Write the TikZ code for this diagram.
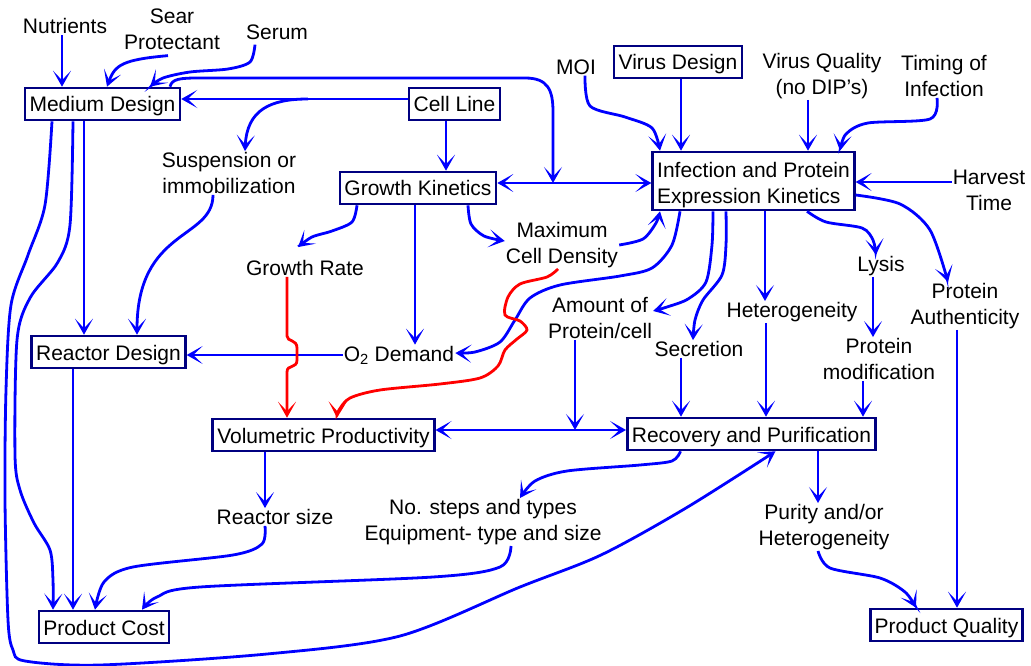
\documentclass[tikz,border=0pt]{standalone}
\usepackage{fontspec}
\setmainfont{Liberation Sans}
\usetikzlibrary{arrows.meta}
\definecolor{linkblue}{RGB}{0,0,255}
\definecolor{boxnavy}{RGB}{0,0,128}
\definecolor{linkred}{RGB}{255,0,0}
\begin{document}
\begin{tikzpicture}[x=1pt,y=-1pt,
  font=\fontsize{21}{26}\selectfont,
  boxbase/.style={draw=boxnavy, line width=2.6pt, fill=white, inner xsep=4.5pt, inner ysep=6pt},
  box/.style={boxbase, text height=18pt, text depth=2pt},
  lbl/.style={align=center, inner sep=1pt},
  vtip/.tip={Stealth[length=16pt,width=18pt,inset=9.5pt]},
  link/.style={draw=linkblue, line width=2.8pt, -vtip},
  both/.style={link, vtip-vtip},
  hot/.style={link, draw=linkred},
]
\useasboundingbox (0,0) rectangle (1031,666);

% boxed stages
\node[box] (md) at (102.5,104) {Medium Design};
\node[box] (cl) at (454.5,104) {Cell Line};
\node[box] (gk) at (418,188) {Growth Kinetics};
\node[boxbase, inner ysep=2pt, align=left, minimum height=58pt] (ipk) at (753.5,181) {\rule{0pt}{23pt}Infection and Protein\\Expression Kinetics};
\node[box] (vd) at (678,62) {Virus Design};
\node[box] (rd) at (108.5,352) {Reactor Design};
\node[box] (vp) at (323.5,435) {Volumetric Productivity};
\node[box] (rp) at (751.5,434) {Recovery and Purification};
\node[box] (pc) at (104,627) {Product Cost};
\node[box] (pq) at (946.5,625) {Product Quality};

% free-standing factors
\node[lbl] (nut) at (65,26) {Nutrients};
\node[lbl] (sp) at (172,29) {Sear\\Protectant};
\node[lbl] (ser) at (277,32) {Serum};
\node[lbl] (sus) at (229,173) {Suspension or\\immobilization};
\node[lbl] (moi) at (576,67) {MOI};
\node[lbl] (vq) at (822,76) {Virus Quality\\(no DIP’s)};
\node[lbl] (toi) at (944,76) {Timing of\\Infection};
\node[lbl] (ht) at (989,190) {Harvest\\Time};
\node[lbl] (gr) at (305,268) {Growth Rate};
\node[lbl] (mcd) at (562,245) {Maximum\\Cell Density};
\node[lbl] (o2) at (399,355) {O\textsubscript{2} Demand};
\node[lbl] (apc) at (600,318) {Amount of\\Protein/cell};
\node[lbl] (sec) at (699,349) {Secretion};
\node[lbl] (het) at (792,312) {Heterogeneity};
\node[lbl] (lys) at (881,266) {Lysis};
\node[lbl] (pm) at (879,359) {Protein\\modification};
\node[lbl] (pa) at (965,306) {Protein\\Authenticity};
\node[lbl] (rs) at (275,517) {Reactor size};
\node[lbl] (ns) at (483,522) {No. steps and types\\Equipment- type and size};
\node[lbl] (pur) at (824,527) {Purity and/or\\Heterogeneity};

% junctions on connector lines
\coordinate (brs) at (308,99);
\coordinate (j1) at (553,183);
\coordinate (j2) at (575,430);

% inputs to medium design
\draw[link] ([xshift=-3pt]nut.south) -- ([xshift=-40.5pt]md.north);
\draw[link] ([xshift=-4pt,yshift=-5pt]sp.south) .. controls +(-45,4) and +(8,-22) .. ([xshift=4.5pt]md.north);
\draw[link] plot[smooth] coordinates {([xshift=-22pt,yshift=-4pt]ser.south) (250,62) (228,69) (190,72) (163,78) ([xshift=47.5pt]md.north)};
\draw[link] ([yshift=5pt]cl.west) -- ([yshift=5pt]md.east);
\draw[link] (brs) .. controls (270,99) and (247,110) .. ([xshift=16pt]sus.north);
\draw[link] ([xshift=67.5pt]md.north) .. controls +(2,-8) and (180,78) .. (200,78) -- (525,78) .. controls (548,78) and (553,90) .. (553,112) -- (j1);

% kinetics
\draw[both] ([yshift=5pt]gk.east) -- ([yshift=-2pt]ipk.west);
\draw[link] ([xshift=-8.5pt]cl.south) -- ([xshift=28pt]gk.north);
\draw[link] ([xshift=-16pt]sus.south) .. controls (213,240) and (137,228) .. ([xshift=28.5pt]rd.north);
\draw[link] ([xshift=-18.5pt]md.south) -- ([xshift=-24.5pt]rd.north);

% long loops on the left
\draw[link] plot[smooth] coordinates {([xshift=-50.5pt]md.south) (45,205) (28,255) (11,305) (6,390) (5,500) (8,620) (13,650) (25,661) (100,665) (267,654) (400,636) (520,587) (601,555) (686,508) ([xshift=24pt]rp.south)};
\draw[link] plot[smooth] coordinates {([xshift=-29.5pt]md.south) (70,225) (58,262) (30,298) (17,340) (15,455) (20,490) (34,523) (50,550) (53,580) ([xshift=-51pt]pc.north)};
\draw[link] ([xshift=-35.5pt]rd.south) -- ([xshift=-31pt]pc.north);
\draw[link] plot[smooth] coordinates {([xshift=-10pt]rs.south) (262,544) (233,555) (133,567) (104,582) ([xshift=-9pt]pc.north)};
\draw[link] plot[smooth] coordinates {([xshift=28pt]ns.south) (500,567) (433,577) (200,587) (157,597) ([xshift=38pt]pc.north)};

% productivity
\draw[link] ([xshift=-58.5pt]vp.south) -- ([xshift=-10pt]rs.north);
\draw[both] ([yshift=5pt]vp.east) -- ([yshift=4pt]rp.west);
\draw[link] ([xshift=-25pt]apc.south) -- (j2);
\draw[link] ([xshift=-3pt]gk.south) -- ([xshift=16pt]o2.north);
\draw[link] (o2.west) -- (o2.west -| rd.east);
\draw[link] plot[smooth] coordinates {([xshift=-61pt]gk.south) (352,222) (332,231) (312,237) ([xshift=-7pt,yshift=12pt]gr.north)};
\draw[link] plot[smooth] coordinates {([xshift=50pt]gk.south) (471,224) (484,236) ([yshift=4pt]mcd.west)};
\draw[link] plot[smooth] coordinates {(mcd.east) (643,239) (656,223) ([xshift=-93.5pt]ipk.south)};
\draw[link] plot[smooth] coordinates {([xshift=-73.5pt]ipk.south) (672,245) (652,268) (620,276) (560,285) (530,298) (515,320) (500,342) (475,352) ([yshift=2pt]o2.east)};

% infection inputs
\draw[link] plot[smooth] coordinates {([xshift=9pt]moi.south) (590,106) (625,117) (652,128) ([xshift=-93.5pt]ipk.north)};
\draw[link] ([xshift=3pt]vd.south) -- ([xshift=-72.5pt]ipk.north);
\draw[link] ([xshift=-14pt]vq.south) -- ([xshift=54.5pt]ipk.north);
\draw[link] plot[smooth] coordinates {([xshift=-7pt]toi.south) (930,119) (868,123) (846,134) ([xshift=86.5pt]ipk.north)};
\draw[link] ([yshift=8pt]ht.west) -- ([yshift=-1pt]ipk.east);

% infection outputs
\draw[link] plot[smooth] coordinates {([xshift=-40.5pt]ipk.south) (712,245) (706,282) (688,299) (667,307) ([yshift=7pt]apc.east)};
\draw[link] plot[smooth] coordinates {([xshift=-27.5pt]ipk.south) (726,245) (722,275) (703,300) (695,320) ([xshift=-6pt]sec.north)};
\draw[link] ([xshift=11.5pt]ipk.south) -- ([xshift=-27pt]het.north);
\draw[link] plot[smooth] coordinates {([xshift=53.5pt]ipk.south) (826,222) (862,228) (873,240) ([xshift=-5pt]lys.north)};
\draw[link] plot[smooth] coordinates {([yshift=-14pt]ipk.east) (900,204) (930,230) ([xshift=-17pt]pa.north)};
\draw[link] ([xshift=-8pt]lys.south) -- ([xshift=-6pt]pm.north);
\draw[link] ([xshift=-8pt]pa.south) -- ([xshift=10.5pt]pq.north);

% recovery
\draw[link] ([xshift=-18pt]sec.south) -- ([xshift=-70.5pt]rp.north);
\draw[link] ([xshift=-26pt]het.south) -- ([xshift=14.5pt]rp.north);
\draw[link] ([xshift=-16pt]pm.south) -- ([xshift=111.5pt]rp.north);
\draw[link] plot[smooth] coordinates {([xshift=-71pt]rp.south) (672,461) (640,465) (567,471) (535,481) ([xshift=37pt]ns.north)};
\draw[link] ([xshift=66.5pt]rp.south) -- ([xshift=-6pt]pur.north);
\draw[link] plot[smooth] coordinates {([xshift=-6pt]pur.south) (830,568) (880,578) (905,592) ([xshift=-30.5pt]pq.north)};

% red links to volumetric productivity, hopping over crossings
\draw[hot] ([xshift=-18pt]gr.south) -- (287,336) .. controls (287,342) and (297,339) .. (297,348) -- (297,360) .. controls (297,369) and (287,364) .. (287,372) -- ([xshift=-36.5pt]vp.north);
\draw[hot] plot[smooth] coordinates {([xshift=-4pt]mcd.south) (547,277) (520,284) (508,297) (505,315) (520,321) (527,330) (517,339) (505,350) (498,366) (480,378) (440,384) (380,390) (350,398) (339,410) ([xshift=13.5pt]vp.north)};
\end{tikzpicture}
\end{document}
